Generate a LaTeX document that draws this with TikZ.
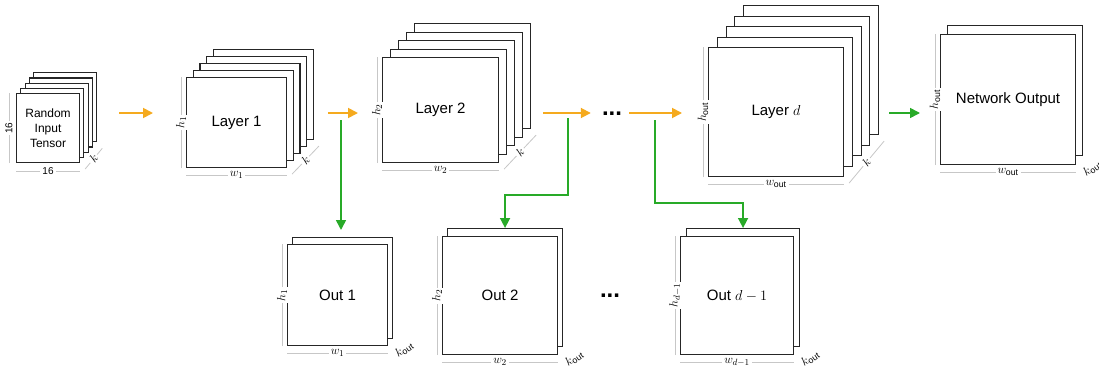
\documentclass[tikz,border=0pt]{standalone}
\usepackage{amsmath}
\usepackage{fontspec}
\setmainfont{Liberation Sans}
\usetikzlibrary{arrows.meta,positioning,calc}
\definecolor{feedorange}{RGB}{245,170,30}
\definecolor{tapgreen}{RGB}{40,170,40}
\tikzset{
  sheet/.style={draw=black!85, line width=1.1pt, fill=white, inner sep=0pt,
    anchor=north west, align=center, font=\fontsize{15}{18}\selectfont},
  feed/.style={-{Triangle[length=10pt,width=10pt]}, line width=1.8pt, feedorange},
  tap/.style={-{Triangle[length=10pt,width=10pt]}, line width=1.6pt, tapgreen},
  dimline/.style={draw=black!22, line width=0.8pt},
  dimlab/.style={fill=white, inner sep=2pt, font=\fontsize{12.5}{14}\selectfont},
  dotsbox/.style={inner sep=0pt, font=\fontsize{24}{24}\selectfont\bfseries}
}

\begin{document}
\begin{tikzpicture}[x=1pt, y=-1pt]
    \useasboundingbox (0,0) rectangle (1099,375);
    % stacks of feature maps
    \foreach \i in {4,3,2,1}
      \node[sheet, minimum width=63pt, minimum height=69pt] (in-\i) at (16+4.3*\i, 93-5.2*\i) {};
    \node[sheet, minimum width=63pt, minimum height=69pt, font=\fontsize{12}{15}\selectfont] (in) at (16,93) {Random\\Input\\Tensor};
    \foreach \i in {4,3,2,1}
      \node[sheet, minimum width=100pt, minimum height=90pt] (l1-\i) at (186+6.7*\i, 77-7*\i) {};
    \node[sheet, minimum width=100pt, minimum height=90pt] (l1) at (186,77) {Layer 1};
    \foreach \i in {4,3,2,1}
      \node[sheet, minimum width=116pt, minimum height=105pt] (l2-\i) at (382+8*\i, 57-8.5*\i) {};
    \node[sheet, minimum width=116pt, minimum height=105pt] (l2) at (382,57) {Layer 2};
    \foreach \i in {4,3,2,1}
      \node[sheet, minimum width=135pt, minimum height=129pt] (ld-\i) at (708+8.75*\i, 47-10.5*\i) {};
    \node[sheet, minimum width=135pt, minimum height=129pt] (ld) at (708,47) {Layer $d$};
    \node[sheet, minimum width=135pt, minimum height=130pt] (net-1) at (947,25) {};
    \node[sheet, minimum width=135pt, minimum height=130pt] (net) at (940,34) {Network Output};
    % side outputs
    \node[sheet, minimum width=100pt, minimum height=101pt] (o1-1) at (292,237) {};
    \node[sheet, minimum width=100pt, minimum height=101pt] (o1) at (287,244) {Out 1};
    \node[sheet, minimum width=115pt, minimum height=118pt] (o2-1) at (447,228) {};
    \node[sheet, minimum width=115pt, minimum height=118pt] (o2) at (442,236) {Out 2};
    \node[sheet, minimum width=113pt, minimum height=118pt] (od-1) at (686,228) {};
    \node[sheet, minimum width=113pt, minimum height=118pt] (od) at (680,236) {Out $d-1$};
    \node[dotsbox] (dots1) at (612,114) {...};
    \node[dotsbox] (dots2) at (610,296) {...};

    % dimensions
    \draw[dimline] ([xshift=-7pt]in.south west) -- node[dimlab, sloped, inner sep=1pt, font=\fontsize{10}{12}\selectfont] (in-h) {16} ([xshift=-7pt]in.north west);
    \draw[dimline] ([yshift=-8pt]in.south west) -- node[dimlab, font=\fontsize{10}{12}\selectfont] (in-w) {16} ([yshift=-8pt]in.south east);
    \foreach \n/\h/\w in {l1/{h_1}/{w_1}, l2/{h_2}/{w_2}, ld/{h_{\text{out}}}/{w_{\text{out}}},
        net/{h_{\text{out}}}/{w_{\text{out}}}, o1/{h_1}/{w_1}, o2/{h_2}/{w_2}, od/{h_{d-1}}/{w_{d-1}}} {
      \draw[dimline] ([xshift=-5pt]\n.south west) -- node[dimlab, sloped] (\n-h) {$\h$} ([xshift=-5pt]\n.north west);
      \draw[dimline] ([yshift=-7pt]\n.south west) -- node[dimlab] (\n-w) {$\w$} ([yshift=-7pt]\n.south east);
    }
    \foreach \n in {in,l1,l2,ld}
      \draw[dimline] ([shift={(5pt,-6pt)}]\n.south east) -- node[dimlab, sloped] (\n-k) {$k$} ([shift={(5pt,-6pt)}]\n-4.south east);
    \foreach \n in {net,o1,o2,od}
      \node[dimlab, fill=none, inner sep=0pt, rotate=35] (\n-k) at ([shift={(16pt,-3pt)}]\n.south east) {$k_{\text{out}}$};

    % data flow
    \coordinate (row) at (0,113);
    \draw[feed, shorten <=22pt, shorten >=33pt] (in-4.east |- row) -- (l1.west |- row);
    \draw[feed, shorten <=14pt, shorten >=24pt] (l1-4.east |- row) -- (l2.west |- row);
    \draw[feed, shorten <=12pt, shorten >=11pt] (l2-4.east |- row) -- (dots1.west |- row);
    \draw[feed, shorten <=7pt, shorten >=26pt] (dots1.east |- row) -- (ld.west |- row);
    \draw[tap, shorten <=10pt, shorten >=20pt] (ld-4.east |- row) -- (net.west |- row);
    \coordinate (tap1) at (341,120);
    \coordinate (tap2) at (568,118);
    \coordinate (tap3) at (655,120);
    \draw[tap, shorten >=7pt] (tap1) -- (tap1 |- o1-1.north);
    \draw[tap] (tap2) -- ++(0,77) -| (o2-1.north);
    \draw[tap] (tap3) -- ++(0,83) -| (od-1.north);
  \end{tikzpicture}
\end{document}
